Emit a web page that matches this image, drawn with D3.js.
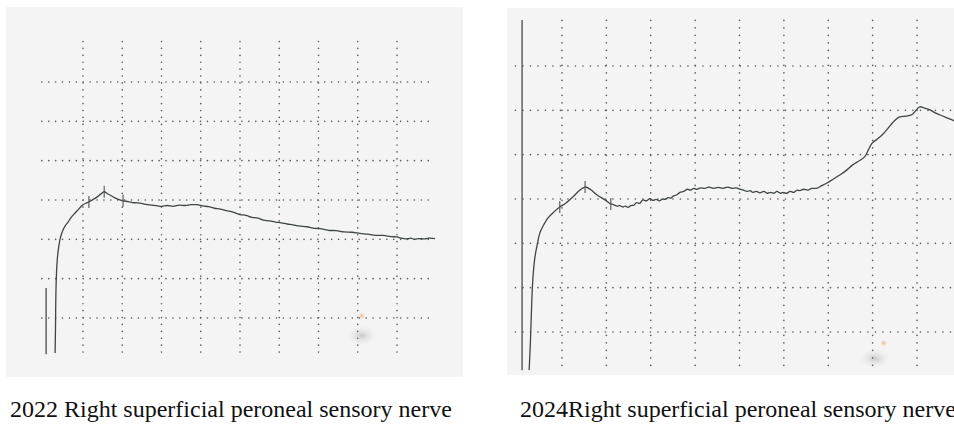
<!DOCTYPE html>
<html>
<head>
<meta charset="utf-8">
<script src="https://cdnjs.cloudflare.com/ajax/libs/d3/7.8.5/d3.min.js"></script>
<style>
  body { margin: 0; background: #ffffff; }
  #graf { width: 954px; height: 426px; }
</style>
</head>
<body>
<div id="graf"></div>
<script>
// Two sensory nerve traces on dotted grid paper
//

// Grid divisions (both sheets use the same 8 x 6 division grid)
gridCols = [0, 1, 2, 3, 4, 5, 6, 7, 8]
gridRows = [0, 1, 2, 3, 4, 5, 6]

captions = ['2022 Right superficial peroneal sensory nerve',
            '2024Right superficial peroneal sensory nerve']

// 2022 trace, time in divisions / amplitude in divisions (up = positive)
leftT = [-0.71, -0.70, -0.69, -0.67, -0.64, -0.59, -0.55, -0.51, -0.45, -0.38, -0.30, -0.20, -0.10, 0.00,
         0.08, 0.15, 0.25, 0.36, 0.45, 0.54, 0.62, 0.70, 0.80, 0.92, 1.02, 1.15, 1.30, 1.45, 1.60,
         1.75, 1.90, 2.01, 2.15, 2.30, 2.45, 2.60, 2.75, 2.90, 3.05, 3.20, 3.35, 3.50, 3.65, 3.80,
         4.00, 4.15, 4.30, 4.45, 4.60, 4.75, 4.90, 5.05, 5.20, 5.35, 5.50, 5.70, 5.90, 6.04, 6.25,
         6.45, 6.65, 6.85, 7.06, 7.25, 7.45, 7.65, 7.85, 8.00, 8.10, 8.25, 8.35, 8.45, 8.55, 8.70,
         8.80, 8.97]
leftV = [-0.89, -0.20, 0.64, 1.25, 1.65, 1.98, 2.13, 2.24, 2.35, 2.44, 2.56, 2.67, 2.78, 2.88,
         2.92, 2.95, 3.01, 3.08, 3.15, 3.21, 3.16, 3.12, 3.06, 3.01, 2.98, 2.96, 2.93, 2.92, 2.89,
         2.87, 2.85, 2.84, 2.86, 2.84, 2.87, 2.86, 2.88, 2.88, 2.85, 2.83, 2.79, 2.77, 2.73, 2.70,
         2.63, 2.61, 2.56, 2.54, 2.49, 2.47, 2.44, 2.42, 2.39, 2.37, 2.34, 2.32, 2.28, 2.27, 2.23,
         2.22, 2.19, 2.18, 2.15, 2.13, 2.10, 2.10, 2.07, 2.06, 2.03, 2.01, 2.03, 2.00, 2.02, 2.01,
         2.03, 2.02]
leftMarks = [0.15, 0.54, 1.02]

// 2024 trace
rightT = [-0.74, -0.71, -0.68, -0.65, -0.61, -0.56, -0.50, -0.41, -0.32, -0.18, -0.05, 0.09, 0.25,
          0.38, 0.52, 0.65, 0.79, 0.97, 1.10, 1.17, 1.24, 1.30, 1.37, 1.43, 1.49, 1.55, 1.62, 1.68,
          1.75, 1.82, 1.90, 1.98, 2.05, 2.12, 2.20, 2.27, 2.33, 2.39, 2.45, 2.50, 2.58, 2.66, 2.74,
          2.82, 2.90, 2.97, 3.04, 3.12, 3.22, 3.30, 3.42, 3.52, 3.63, 3.73, 3.83, 3.92, 4.01, 4.09,
          4.17, 4.24, 4.30, 4.38, 4.46, 4.55, 4.62, 4.70, 4.78, 4.84, 4.92, 4.98, 5.06, 5.14, 5.22,
          5.30, 5.36, 5.45, 5.54, 5.63, 5.74, 5.85, 5.97, 6.10, 6.26, 6.40, 6.55, 6.68, 6.82, 6.90,
          6.98, 7.10, 7.23, 7.35, 7.45, 7.53, 7.61, 7.75, 7.88, 7.98, 8.06, 8.17, 8.29, 8.40, 8.51,
          8.65, 8.78, 8.96]
rightV = [-0.86, -0.18, 0.72, 1.29, 1.69, 1.96, 2.23, 2.42, 2.57, 2.71, 2.82, 2.91, 3.05,
          3.18, 3.27, 3.21, 3.09, 2.98, 2.89, 2.87, 2.84, 2.85, 2.82, 2.84, 2.81, 2.85, 2.86, 2.92,
          2.90, 2.98, 2.96, 3.01, 2.97, 2.99, 2.96, 3.00, 2.99, 3.03, 3.02, 3.06, 3.09, 3.15, 3.17,
          3.22, 3.20, 3.24, 3.22, 3.25, 3.24, 3.27, 3.24, 3.26, 3.24, 3.27, 3.24, 3.25, 3.22, 3.20,
          3.17, 3.19, 3.15, 3.17, 3.14, 3.17, 3.13, 3.15, 3.13, 3.17, 3.13, 3.15, 3.13, 3.17, 3.15,
          3.20, 3.19, 3.22, 3.20, 3.24, 3.24, 3.30, 3.36, 3.44, 3.54, 3.64, 3.77, 3.85, 3.95, 4.10,
          4.25, 4.35, 4.46, 4.60, 4.72, 4.80, 4.85, 4.87, 4.90, 5.00, 5.08, 5.05, 5.01, 4.95, 4.90,
          4.84, 4.79, 4.70]
rightMarks = [-0.05, 0.52, 1.10]

// calibration bar (2022) and baseline axis (2024), in divisions
leftBar  = { t: -0.94, v0: 0.76, v1: -0.92 }
rightBar = { t: -0.90, v0: 7.04, v1: -0.86 }

graf = d3.select('#graf')
svg = graf.append('svg')
          .attr('width', 954)
          .attr('height', 426)

defs = svg.append('defs')
mancha = defs.append('radialGradient').attr('id', 'mancha')
mancha.append('stop').attr('offset', '0%').attr('stop-color', '#b9b9bd').attr('stop-opacity', 0.7)
mancha.append('stop').attr('offset', '100%').attr('stop-color', '#e6e6e8').attr('stop-opacity', 0)
punto = defs.append('radialGradient').attr('id', 'punto')
punto.append('stop').attr('offset', '0%').attr('stop-color', '#e7b27a').attr('stop-opacity', 0.9)
punto.append('stop').attr('offset', '100%').attr('stop-color', '#f3e2cf').attr('stop-opacity', 0)

paneles = [
  { id: 'izq', paper: [6, 7, 463, 377], x: [83, 397], y: [318, 82], dot: 6.8,
    t: leftT, v: leftV, marks: leftMarks, bar: leftBar, capX: 10,
    stain: [7.1, -0.45], spot: [7.1, 0.05] },
  { id: 'der', paper: [507, 8, 960, 375], x: [562, 917], y: [332, 66], dot: 7.4,
    t: rightT, v: rightV, marks: rightMarks, bar: rightBar, capX: 520,
    stain: [7.05, -0.6], spot: [7.25, -0.25] }
]

paneles.forEach((p, k) => {
  x = d3.scaleLinear().domain([0, 8]).range(p.x)
  y = d3.scaleLinear().domain([0, 6]).range(p.y)

  g = svg.append('g')

  g.append('clipPath')
    .attr('id', 'clip-' + p.id)
    .append('rect')
      .attr('x', p.paper[0])
      .attr('y', p.paper[1])
      .attr('width', p.paper[2] - p.paper[0])
      .attr('height', p.paper[3] - p.paper[1])

  // paper sheet
  g.append('rect')
    .attr('x', p.paper[0])
    .attr('y', p.paper[1])
    .attr('width', p.paper[2] - p.paper[0])
    .attr('height', p.paper[3] - p.paper[1])
    .attr('fill', '#f4f4f4')

  inner = g.append('g').attr('clip-path', `url(#clip-${p.id})`)

  // scan smudges
  inner.append('ellipse')
    .attr('cx', x(p.stain[0]))
    .attr('cy', y(p.stain[1]))
    .attr('rx', 16)
    .attr('ry', 10)
    .attr('fill', 'url(#mancha)')
  inner.append('circle')
    .attr('cx', x(p.spot[0]))
    .attr('cy', y(p.spot[1]))
    .attr('r', 4)
    .attr('fill', 'url(#punto)')

  // dotted grid
  inner.selectAll('.vg')
    .data(gridCols)
    .enter().append('line')
      .attr('x1', d => x(d))
      .attr('x2', d => x(d))
      .attr('y1', y(7.03))
      .attr('y2', y(-0.87))
      .attr('stroke', '#5e5e5e')
      .attr('stroke-width', 1.6)
      .attr('stroke-linecap', 'round')
      .attr('stroke-dasharray', `0.1 ${p.dot}`)

  inner.selectAll('.hg')
    .data(gridRows)
    .enter().append('line')
      .attr('x1', x(-1.05))
      .attr('x2', x(k == 0 ? 8.85 : 9.2))
      .attr('y1', d => y(d))
      .attr('y2', d => y(d))
      .attr('stroke', '#5e5e5e')
      .attr('stroke-width', 1.6)
      .attr('stroke-linecap', 'round')
      .attr('stroke-dasharray', `0.1 ${p.dot}`)

  // bar / axis line
  inner.append('line')
    .attr('x1', x(p.bar.t))
    .attr('x2', x(p.bar.t))
    .attr('y1', y(p.bar.v0))
    .attr('y2', y(p.bar.v1))
    .attr('stroke', '#4a4a4a')
    .attr('stroke-width', 1.3)

  // trace
  pts = p.t.map((t, i) => [t, p.v[i]])
  line = d3.line()
    .x(d => x(d[0]))
    .y(d => y(d[1]))
    .curve(d3.curveCatmullRom.alpha(0.5))

  inner.append('path')
    .datum(pts)
    .attr('d', line)
    .attr('fill', 'none')
    .attr('stroke', '#3f4643')
    .attr('stroke-width', 1.3)
    .attr('stroke-linejoin', 'round')

  // latency / peak markers
  interp = (t) => {
    i = d3.bisector(d => d[0]).left(pts, t)
    a = pts[Math.max(0, i - 1)], b = pts[Math.min(pts.length - 1, i)]
    f = b[0] == a[0] ? 0 : (t - a[0]) / (b[0] - a[0])
    return a[1] + f * (b[1] - a[1])
  }
  inner.selectAll('.mk')
    .data(p.marks)
    .enter().append('line')
      .attr('x1', d => x(d))
      .attr('x2', d => x(d))
      .attr('y1', d => y(interp(d)) - 6)
      .attr('y2', d => y(interp(d)) + 6)
      .attr('stroke', '#555')
      .attr('stroke-width', 1.1)

  // caption
  svg.append('text')
    .attr('x', p.capX)
    .attr('y', 417)
    .attr('font-family', '"Liberation Serif", "Times New Roman", serif')
    .attr('font-size', '24px')
    .attr('fill', '#111')
    .text(captions[k])
})
</script>
</body>
</html>
